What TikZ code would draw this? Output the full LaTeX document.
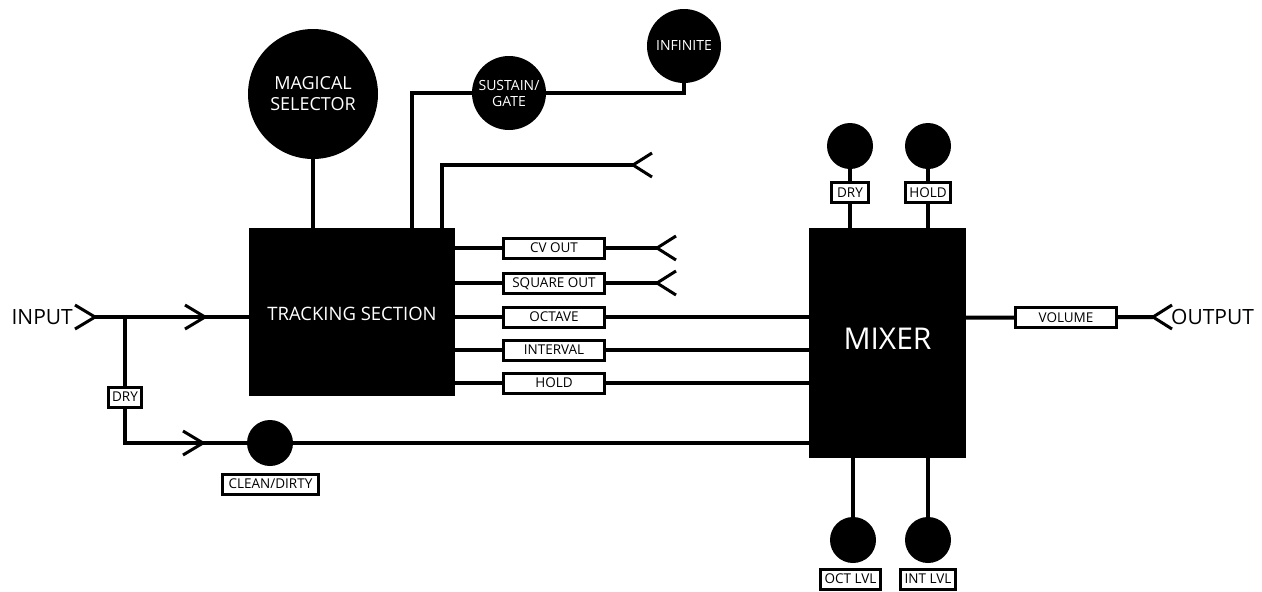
\documentclass[tikz,border=0pt]{standalone}
\usepackage{fontspec}
\setmainfont{Open Sans}
\usetikzlibrary{calc}

\tikzset{
  wire/.style={line width=4pt},
  jackline/.style={line width=3pt},
  blk/.style={fill=black,text=white,inner sep=0pt},
  knob/.style={circle,fill=black,text=white,inner sep=0pt,align=center},
  tag/.style={draw,line width=3pt,fill=white,inner xsep=6pt,inner ysep=0pt,
    minimum height=20pt,text depth=0pt,font=\fontsize{13.5}{15}\selectfont},
  coltag/.style={tag,minimum width=101pt},
  jackin/.pic={\draw[jackline] (19pt,12pt) -- (0,0) -- (19pt,-12pt);},
  jackarr/.pic={\draw[jackline] (-20pt,12pt) -- (0,0) -- (-20pt,-12pt);}
}

\begin{document}
\begin{tikzpicture}[x=1pt,y=-1pt]
  \useasboundingbox (0,0) rectangle (1262,592);

  % blocks
  \node[blk,minimum width=206pt,minimum height=168pt] (track) at (352,312) {};
  \node[text=white,text depth=0pt,font=\fontsize{18.5}{20}\selectfont]
    (tracktxt) at (352,314) {TRACKING SECTION};
  \node[blk,minimum width=157pt,minimum height=230pt] (mix) at (887.5,343) {};
  \node[text=white,text depth=0pt,font=\fontsize{30}{34}\selectfont]
    (mixtxt) at (887.5,339) {MIXER};

  % knobs above the tracking section
  \node[knob,minimum size=130pt,font=\fontsize{18}{21}\selectfont]
    (magic) at (313,94) {MAGICAL\\SELECTOR};
  \node[knob,minimum size=74pt,font=\fontsize{14}{16}\selectfont]
    (sus) at (509,93) {SUSTAIN/\\GATE};
  \node[knob,minimum size=74pt,font=\fontsize{14}{16}\selectfont]
    (inf) at (684,46) {INFINITE};

  \draw[wire] (magic.south) -- (magic.south |- track.north);
  \draw[wire] ([xshift=60pt]track.north) |- (sus.west);
  \draw[wire] (sus.east) -| (inf.south);

  \coordinate (jtop) at (633,165);
  \draw[wire] ([xshift=90pt]track.north) |- (jtop);
  \pic at (jtop) {jackin};

  % outputs of the tracking section
  \node[coltag] (cv) at (554,248) {CV OUT};
  \node[coltag] (sq) at (554,283) {SQUARE OUT};
  \node[coltag] (oct) at (554,317) {OCTAVE};
  \node[coltag] (int) at (554,350) {INTERVAL};
  \node[coltag] (hold) at (554,383) {HOLD};

  \coordinate (jcv) at (657,248);
  \coordinate (jsq) at (657,283);
  \draw[wire] (track.east |- cv) -- (cv) -- (jcv);
  \draw[wire] (track.east |- sq) -- (sq) -- (jsq);
  \pic at (jcv) {jackin};
  \pic at (jsq) {jackin};
  \foreach \t in {oct,int,hold}
    \draw[wire] (track.east |- \t) -- (\t) -- (\t -| mix.west);

  % input side
  \node[anchor=east,inner sep=0pt,font=\fontsize{21}{24}\selectfont] (in) at (73,317) {INPUT};
  \coordinate (jin) at (95,317);
  \coordinate (br) at (125,317);
  \pic at (jin) {jackarr};
  \draw[wire] (jin) -- (jin -| track.west);
  \pic at (205,317) {jackarr};

  \node[tag,inner xsep=4pt] (dry) at (125,397) {DRY};
  \node[knob,minimum size=46pt] (clean) at (270,443) {};
  \node[tag] (tclean) at (270.5,484) {CLEAN/DIRTY};
  \draw[wire] (br) -- (dry);
  \draw[wire] (dry) |- (clean);
  \pic at (203,443) {jackarr};
  \draw[wire] (clean) -- (clean -| mix.west);

  % mixer knobs
  \node[knob,minimum size=46pt] (kdry) at (850,146) {};
  \node[knob,minimum size=46pt] (khold) at (928,146) {};
  \node[tag] (tdry) at (850,192.5) {DRY};
  \node[tag,inner xsep=4pt] (thold) at (928,192.5) {HOLD};
  \draw[wire] (kdry) -- (tdry) -- (tdry |- mix.north);
  \draw[wire] (khold) -- (thold) -- (thold |- mix.north);

  \node[knob,minimum size=46pt] (koct) at (853,540) {};
  \node[knob,minimum size=46pt] (kint) at (928,540) {};
  \node[tag,inner xsep=4pt] (toct) at (850.5,579) {OCT LVL};
  \node[tag,inner xsep=4pt] (tint) at (928,579) {INT LVL};
  \draw[wire] (koct) -- (koct |- mix.south);
  \draw[wire] (kint) -- (kint |- mix.south);

  % output side
  \node[coltag] (vol) at (1066,317.5) {VOLUME};
  \coordinate (jout) at (1153,317);
  \draw[wire] (mix.east |- vol) -- (vol) -- (jout);
  \pic at (jout) {jackin};
  \node[anchor=west,inner sep=0pt,font=\fontsize{21}{24}\selectfont] (out) at (1171,317) {OUTPUT};
\end{tikzpicture}
\end{document}
